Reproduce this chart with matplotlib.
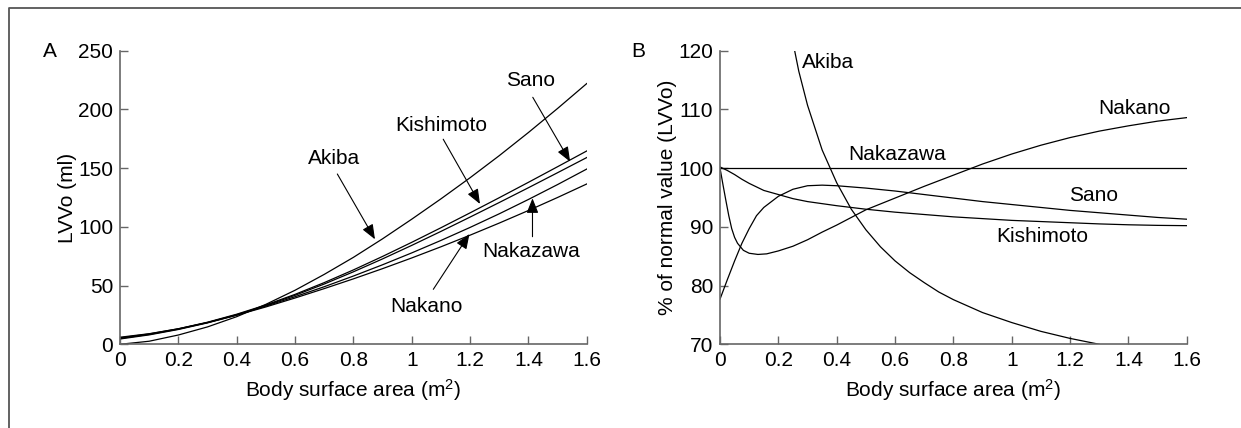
#%% Imports
import matplotlib
matplotlib.use('Agg')
import matplotlib.pyplot as plt
from matplotlib.lines import Line2D

plt.rcParams['font.family'] = ['Liberation Sans', 'DejaVu Sans']
plt.rcParams['mathtext.fontset'] = 'custom'
plt.rcParams['mathtext.rm'] = 'Liberation Sans'
plt.rcParams['mathtext.it'] = 'Liberation Sans'

#%% Data
### Panel A: LVVo (ml) vs body surface area
bsa_a = [0.0, 0.1, 0.2, 0.3, 0.4, 0.5, 0.6, 0.7, 0.8, 0.9, 1.0,
         1.1, 1.2, 1.3, 1.4, 1.5, 1.6]
akiba_a = [0.0, 2.6, 7.9, 14.8, 23.5, 34.0, 46.0, 59.5, 74.0, 89.8, 106.5,
           123.8, 141.8, 160.6, 180.3, 200.8, 222.0]
kishimoto_a = [5.5, 8.8, 13.2, 18.8, 25.6, 33.5, 42.5, 52.5, 63.3, 74.8, 86.8,
               99.2, 111.9, 124.8, 137.9, 151.2, 164.6]
sano_a = [5.0, 8.4, 12.9, 18.5, 25.2, 33.0, 41.7, 51.3, 61.7, 72.7, 84.2,
          96.1, 108.3, 120.7, 133.3, 146.1, 159.0]
nakazawa_a = [4.5, 8.0, 12.6, 18.2, 24.8, 32.5, 40.5, 49.0, 58.1, 67.7, 77.8,
              88.4, 99.5, 111.1, 123.3, 136.0, 149.2]
nakano_a = [6.0, 9.0, 13.2, 18.5, 24.8, 31.8, 39.4, 47.4, 55.7, 64.4, 73.5,
            83.0, 92.9, 103.2, 113.9, 125.0, 136.5]

### Panel B: % of normal value (LVVo)
bsa_b_akiba = [0.24, 0.27, 0.3, 0.35, 0.4, 0.45, 0.5, 0.55, 0.6, 0.65, 0.7,
               0.75, 0.8, 0.9, 1.0, 1.1, 1.2, 1.3]
akiba_b = [123.9, 116.5, 110.7, 103.1, 97.5, 93.0, 89.5, 86.6, 84.2, 82.2, 80.5,
           78.9, 77.6, 75.4, 73.7, 72.2, 71.0, 70.0]
bsa_b_nakano = [0.0, 0.01, 0.02, 0.03, 0.04, 0.05, 0.06, 0.08, 0.1, 0.13, 0.16,
                0.2, 0.25, 0.3, 0.35, 0.4, 0.45, 0.5, 0.6, 0.7, 0.8, 0.9,
                1.0, 1.1, 1.2, 1.3, 1.4, 1.5, 1.6]
nakano_b = [100.0, 97.2, 94.5, 91.9, 89.7, 88.2, 87.2, 86.0, 85.5, 85.3, 85.4,
            85.9, 86.7, 87.8, 89.1, 90.3, 91.6, 92.9, 94.9, 96.9, 98.8, 100.7,
            102.4, 103.9, 105.2, 106.3, 107.2, 108.0, 108.6]
bsa_b_sano = [0.0, 0.025, 0.05, 0.075, 0.1, 0.125, 0.15, 0.2, 0.25, 0.3, 0.35,
              0.4, 0.5, 0.6, 0.7, 0.8, 0.9, 1.0, 1.1, 1.2, 1.3, 1.4, 1.5, 1.6]
sano_b = [77.7, 81.0, 84.2, 87.2, 89.7, 91.9, 93.3, 95.2, 96.4, 97.0, 97.1,
          97.0, 96.6, 96.1, 95.5, 94.9, 94.3, 93.8, 93.3, 92.8, 92.4, 92.0, 91.6, 91.3]
bsa_b_kishimoto = [0.0, 0.025, 0.05, 0.075, 0.1, 0.15, 0.2, 0.25, 0.3, 0.4, 0.5,
                   0.6, 0.7, 0.8, 0.9, 1.0, 1.1, 1.2, 1.3, 1.4, 1.5, 1.6]
kishimoto_b = [100.2, 99.6, 98.9, 98.1, 97.4, 96.2, 95.5, 94.8, 94.3, 93.6, 93.0,
               92.5, 92.1, 91.7, 91.4, 91.1, 90.9, 90.7, 90.5, 90.35, 90.25, 90.2]
bsa_b_nakazawa = [0.0, 1.6]
nakazawa_b = [100.0, 100.0]

xticks = [0, 0.2, 0.4, 0.6, 0.8, 1.0, 1.2, 1.4, 1.6]
xticklabels = ['0', '0.2', '0.4', '0.6', '0.8', '1', '1.2', '1.4', '1.6']
yticks_a = [0, 50, 100, 150, 200, 250]
yticks_b = [70, 80, 90, 100, 110, 120]

#%% Figure
fs = 15
axcol = '#666666'
fig = plt.figure(figsize=(12.41, 4.28), dpi=100)
axA = fig.add_axes([0.0967, 0.1956, 0.3761, 0.686])
axB = fig.add_axes([0.5802, 0.1956, 0.3761, 0.686])

def style(ax, yticks, ylim):
    ax.set_xlim(0, 1.6)
    ax.set_ylim(*ylim)
    ax.set_xticks(xticks)
    ax.set_xticklabels(xticklabels)
    ax.set_yticks(yticks)
    for s in ['top', 'right']:
        ax.spines[s].set_visible(False)
    for s in ['left', 'bottom']:
        ax.spines[s].set_color(axcol)
        ax.spines[s].set_linewidth(1.2)
    ax.tick_params(direction='in', length=6, width=1.0, color=axcol,
                   labelsize=fs, pad=5)
    ax.set_xlabel('Body surface area (m$^2$)', fontsize=fs, labelpad=5)

lk = dict(color='black', lw=0.9)
arr = dict(arrowstyle='-|>,head_length=0.5,head_width=0.2', color='black', lw=0.8,
           mutation_scale=18, shrinkA=0, shrinkB=0)

### Panel A
for y in [akiba_a, kishimoto_a, sano_a, nakazawa_a, nakano_a]:
    axA.plot(bsa_a, y, **lk)
style(axA, yticks_a, (0, 250))
axA.set_ylabel('LVVo (ml)', fontsize=fs, labelpad=1)
## labels with arrows: (text pos, arrow start, arrow tip)
labels_a = [
    ('Akiba', (0.735, 157.8), (0.745, 145.0), (0.874, 89.4)),
    ('Kishimoto', (1.100, 186.7), (1.108, 174.6), (1.234, 119.5)),
    ('Sano', (1.406, 224.2), (1.415, 210.3), (1.543, 155.5)),
    ('Nakazawa', (1.409, 79.4), (1.414, 91.6), (1.414, 124.3)),
    ('Nakano', (1.049, 31.8), (1.074, 46.8), (1.198, 93.9)),
]
for name, tpos, start, tip in labels_a:
    axA.text(*tpos, name, fontsize=fs, ha='center', va='center')
    axA.annotate('', xy=tip, xytext=start, arrowprops=arr)

### Panel B
axB.plot(bsa_b_nakazawa, nakazawa_b, **lk)
axB.plot(bsa_b_akiba, akiba_b, **lk)
axB.plot(bsa_b_nakano, nakano_b, **lk)
axB.plot(bsa_b_sano, sano_b, **lk)
axB.plot(bsa_b_kishimoto, kishimoto_b, **lk)
style(axB, yticks_b, (70, 120))
axB.set_ylabel('% of normal value (LVVo)', fontsize=fs, labelpad=1)
labels_b = [
    ('Akiba', (0.370, 118.0)),
    ('Nakano', (1.422, 110.2)),
    ('Nakazawa', (0.607, 102.4)),
    ('Sano', (1.279, 95.3)),
    ('Kishimoto', (1.104, 88.4)),
]
for name, tpos in labels_b:
    axB.text(*tpos, name, fontsize=fs, ha='center', va='center')

### Panel letters
fig.text(49.7 / 1241, 1 - 51.5 / 428, 'A', fontsize=fs, ha='center', va='center')
fig.text(638 / 1241, 1 - 51.5 / 428, 'B', fontsize=fs, ha='center', va='center')

### Outer frame (left and top edges only)
fig.add_artist(Line2D([8.5 / 1241, 8.5 / 1241, 1.0], [0.0, 1 - 7.5 / 428, 1 - 7.5 / 428],
                      transform=fig.transFigure, color='#555555', lw=1.3))

fig.savefig('out.png', dpi=100)
